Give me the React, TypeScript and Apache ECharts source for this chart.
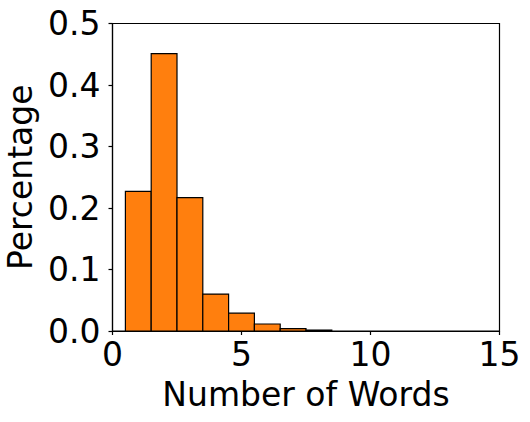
import React, { useEffect, useRef } from "react";
import * as echarts from "echarts";

const binStarts = [0.5, 1.5, 2.5, 3.5, 4.5, 5.5, 6.5, 7.5];
const binWidth = 1;
const percentages = [0.227, 0.451, 0.217, 0.06, 0.029, 0.0114, 0.0038, 0.0015];
const xTicks = [0, 5, 10, 15];
const yTicks = [0, 0.1, 0.2, 0.3, 0.4, 0.5];
const xTitle = "Number of Words";
const yTitle = "Percentage";

const FONT = "DejaVu Sans";
const FS = 33;

export default function App() {
  const ref = useRef<HTMLDivElement>(null);
  useEffect(() => {
    if (!ref.current) return;
    const chart = echarts.init(ref.current, null, { renderer: "svg" });
    const data = binStarts.map((s, i) => [s, s + binWidth, percentages[i]]);
    chart.setOption({
      animation: false,
      backgroundColor: "#ffffff",
      grid: {
        left: 112.5,
        right: 30.5,
        top: 23.5,
        bottom: 91,
        containLabel: false,
        outerBoundsMode: "none",
        show: true,
        borderColor: "#000000",
        borderWidth: 1.2,
        backgroundColor: "transparent",
      },
      xAxis: {
        type: "value",
        min: xTicks[0],
        max: xTicks[xTicks.length - 1],
        interval: xTicks[1] - xTicks[0],
        name: xTitle,
        nameLocation: "middle",
        nameGap: 47,
        nameTextStyle: { fontFamily: FONT, fontSize: FS, color: "#000" },
        axisLine: { show: true, onZero: false, lineStyle: { color: "#000", width: 1.2 } },
        axisTick: { show: true, inside: false, length: 4, lineStyle: { color: "#000", width: 1.2 } },
        axisLabel: { fontFamily: FONT, fontSize: FS, color: "#000", margin: 7 },
        splitLine: { show: false },
      },
      yAxis: {
        type: "value",
        min: yTicks[0],
        max: yTicks[yTicks.length - 1],
        interval: 0.1,
        name: yTitle,
        nameLocation: "middle",
        nameGap: 73,
        nameTextStyle: { fontFamily: FONT, fontSize: FS, color: "#000" },
        axisLine: { show: true, onZero: false, lineStyle: { color: "#000", width: 1.2 } },
        axisTick: { show: true, inside: false, length: 4, lineStyle: { color: "#000", width: 1.2 } },
        axisLabel: {
          fontFamily: FONT,
          fontSize: FS,
          color: "#000",
          margin: 12,
          formatter: (v: number) => v.toFixed(1),
        },
        splitLine: { show: false },
      },
      series: [
        {
          type: "custom",
          data,
          encode: { x: [0, 1], y: 2 },
          renderItem: (params: any, api: any) => {
            const p0 = api.coord([api.value(0), api.value(2)]);
            const p1 = api.coord([api.value(1), 0]);
            return {
              type: "rect",
              shape: { x: p0[0], y: p0[1], width: p1[0] - p0[0], height: p1[1] - p0[1] },
              style: { fill: "#ff7f0e", stroke: "#000000", lineWidth: 1.2 },
            };
          },
        },
      ],
    });
    return () => chart.dispose();
  }, []);
  return (
    <div
      ref={ref}
      style={{ position: "fixed", left: 0, top: 0, width: 530, height: 422, background: "#fff" }}
    />
  );
}
